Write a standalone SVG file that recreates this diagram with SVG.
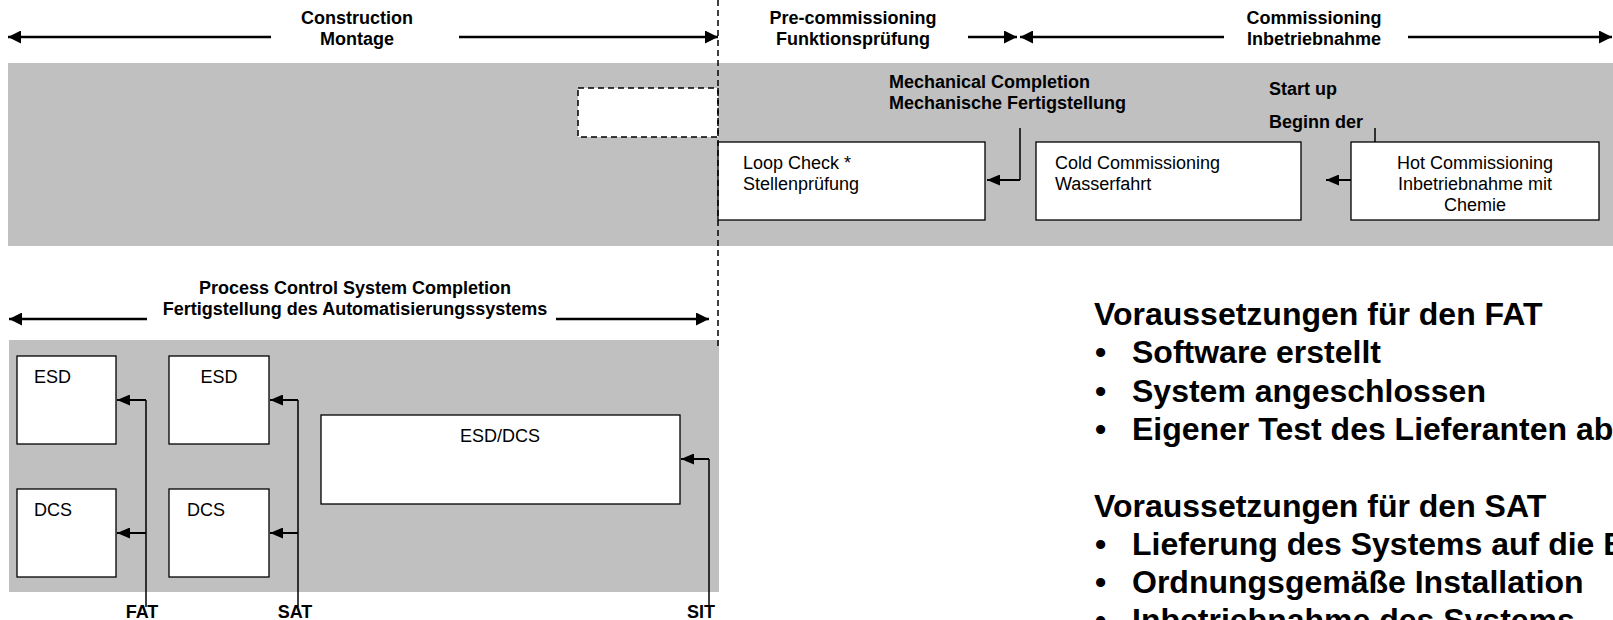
<svg xmlns="http://www.w3.org/2000/svg" width="1613" height="620" viewBox="0 0 1613 620">
<defs>
<style>
.band{fill:#c0c0c0}
.box{fill:#fff;stroke:#000;stroke-width:1.3}
.dbox{fill:#fff;stroke:#000;stroke-width:1.5;stroke-dasharray:6,4}
.hdr{font-family:"Liberation Sans",Arial,sans-serif;font-size:18px;font-weight:bold;fill:#000}
.txt{font-family:"Liberation Sans",Arial,sans-serif;font-size:18px;fill:#000}
.big{font-family:"Liberation Sans",Arial,sans-serif;font-size:32px;font-weight:bold;fill:#000}
.harr{fill:none;stroke:#000;stroke-width:2.5;marker-end:url(#ah)}
.carr{fill:none;stroke:#000;stroke-width:2;marker-end:url(#ah2)}
.ln{fill:none;stroke:#000;stroke-width:1.5}
.mid{text-anchor:middle}
</style>
<marker id="ah" viewBox="0 0 13 13" refX="13" refY="6.5" markerWidth="13" markerHeight="13" markerUnits="userSpaceOnUse" orient="auto"><path d="M0,0 L13,6.5 L0,13 z" fill="#000"/></marker>
<marker id="ah2" viewBox="0 0 13 11" refX="13" refY="5.5" markerWidth="13" markerHeight="11" markerUnits="userSpaceOnUse" orient="auto"><path d="M0,0 L13,5.5 L0,11 z" fill="#000"/></marker>
</defs>

<rect class="band" x="8" y="63" width="1605" height="183"/>
<rect class="band" x="9" y="340" width="710" height="252"/>

<g id="phase-construction">
<text class="hdr mid" x="357" y="24">Construction</text>
<text class="hdr mid" x="357" y="45">Montage</text>
</g>
<g id="phase-precommissioning">
<text class="hdr mid" x="853" y="24">Pre-commissioning</text>
<text class="hdr mid" x="853" y="45">Funktionsprüfung</text>
</g>
<g id="phase-commissioning">
<text class="hdr mid" x="1314" y="24">Commissioning</text>
<text class="hdr mid" x="1314" y="45">Inbetriebnahme</text>
</g>
<g id="phase-pcs">
<text class="hdr mid" x="355" y="294">Process Control System Completion</text>
<text class="hdr mid" x="355" y="315">Fertigstellung des Automatisierungssystems</text>
</g>

<g id="placeholder"><rect class="dbox" x="578" y="88" width="140" height="49"/></g>

<g id="loop-check">
<rect class="box" x="718" y="142" width="267" height="78"/>
<text class="txt" x="743" y="169">Loop Check *</text>
<text class="txt" x="743" y="190">Stellenprüfung</text>
</g>
<g id="mech-completion">
<text class="hdr" x="889" y="88">Mechanical Completion</text>
<text class="hdr" x="889" y="109">Mechanische Fertigstellung</text>
</g>
<g id="cold-commissioning">
<rect class="box" x="1036" y="142" width="265" height="78"/>
<text class="txt" x="1055" y="169">Cold Commissioning</text>
<text class="txt" x="1055" y="190">Wasserfahrt</text>
</g>
<g id="start-up">
<text class="hdr" x="1269" y="95">Start up</text>
<text class="hdr" x="1269" y="128">Beginn der</text>
</g>
<g id="hot-commissioning">
<rect class="box" x="1351" y="142" width="248" height="78"/>
<text class="txt mid" x="1475" y="169">Hot Commissioning</text>
<text class="txt mid" x="1475" y="190">Inbetriebnahme mit</text>
<text class="txt mid" x="1475" y="211">Chemie</text>
</g>

<g id="esd1"><rect class="box" x="17" y="356" width="99" height="88"/><text class="txt" x="34" y="383">ESD</text></g>
<g id="dcs1"><rect class="box" x="17" y="489" width="99" height="88"/><text class="txt" x="34" y="516">DCS</text></g>
<g id="esd2"><rect class="box" x="169" y="356" width="100" height="88"/><text class="txt mid" x="219" y="383">ESD</text></g>
<g id="dcs2"><rect class="box" x="169" y="489" width="100" height="88"/><text class="txt" x="187" y="516">DCS</text></g>
<g id="esd-dcs"><rect class="box" x="321" y="415" width="359" height="89"/><text class="txt mid" x="500" y="442">ESD/DCS</text></g>

<g id="test-labels">
<text class="hdr mid" x="142" y="618">FAT</text>
<text class="hdr mid" x="295" y="618">SAT</text>
<text class="hdr mid" x="701" y="618">SIT</text>
</g>

<g id="prerequisites">
<text class="big" x="1094" y="325">Voraussetzungen für den FAT</text>
<text class="big" x="1095" y="363">•</text><text class="big" x="1132" y="363">Software erstellt</text>
<text class="big" x="1095" y="402">•</text><text class="big" x="1132" y="402">System angeschlossen</text>
<text class="big" x="1095" y="440">•</text><text class="big" x="1132" y="440">Eigener Test des Lieferanten ab</text>
<text class="big" x="1094" y="517">Voraussetzungen für den SAT</text>
<text class="big" x="1095" y="555">•</text><text class="big" x="1132" y="555">Lieferung des Systems auf die B</text>
<text class="big" x="1095" y="593">•</text><text class="big" x="1132" y="593">Ordnungsgemäße Installation</text>
<text class="big" x="1095" y="631">•</text><text class="big" x="1132" y="631">Inbetriebnahme des Systems</text>
</g>

<g id="connectors">
<path class="ln" d="M718,0 V348" stroke-dasharray="6,4"/>
<path class="harr" d="M271,37 H8"/>
<path class="harr" d="M459,37 H718"/>
<path class="harr" d="M968,37 H1017"/>
<path class="harr" d="M1224,37 H1020"/>
<path class="harr" d="M1408,37 H1612"/>
<path class="harr" d="M147,319 H9"/>
<path class="harr" d="M556,319 H709"/>
<path class="ln" d="M1020,128 V180"/>
<path class="carr" d="M1020,180 H987"/>
<path class="carr" d="M1351,180 H1326"/>
<path class="ln" d="M1375,128 V142"/>
<path class="ln" d="M146,607 V400"/>
<path class="carr" d="M146,400 H117"/>
<path class="carr" d="M146,533 H117"/>
<path class="ln" d="M298,607 V400"/>
<path class="carr" d="M298,400 H270"/>
<path class="carr" d="M298,533 H270"/>
<path class="ln" d="M709,607 V459"/>
<path class="carr" d="M709,459 H681"/>
</g>
</svg>
